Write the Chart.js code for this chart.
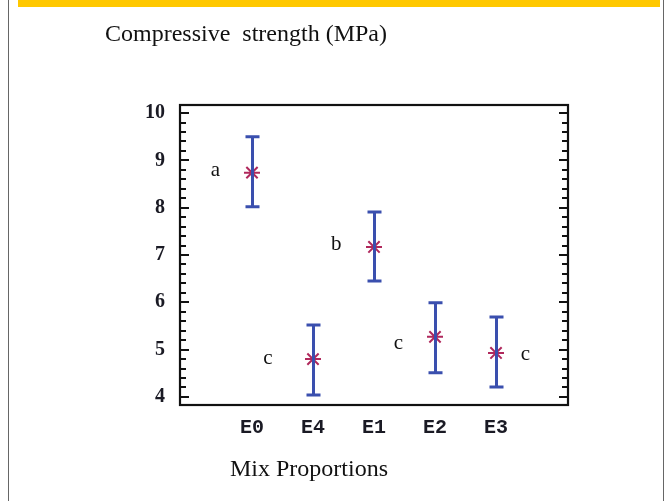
<!DOCTYPE html>
<html><head><meta charset="utf-8">
<script src="https://cdn.jsdelivr.net/npm/chart.js@4"></script>
<style>html,body{margin:0;padding:0;background:#fff}canvas{display:block}</style>
</head><body>
<canvas id="c" width="670" height="501"></canvas>
<script>
// ---- data ----
const categories = ['E0', 'E4', 'E1', 'E2', 'E3'];
const meanStrength = [8.74, 4.80, 7.17, 5.27, 4.93];
const upperStrength = [9.50, 5.52, 7.91, 5.99, 5.69];
const lowerStrength = [8.02, 4.04, 6.45, 4.51, 4.21];
const groupLetters = ['a', 'c', 'b', 'c', 'c'];
const yTickValues = [4, 5, 6, 7, 8, 9, 10];
const titleText = 'Compressive  strength (MPa)';
const xAxisTitle = 'Mix Proportions';

// ---- annotation placement (style, not data) ----
const letterOffsetX = [-0.60, -0.74, -0.62, -0.60, 0.48]; // in category units
const letterShiftY = [0, 1, 0, 9, 4];                     // pixels

const decor = {
  id: 'decor',
  beforeDraw(chart) {
    const ctx = chart.ctx;
    ctx.save();
    ctx.fillStyle = '#fff';
    ctx.fillRect(0, 0, chart.width, chart.height);
    ctx.fillStyle = '#ffc800';
    ctx.fillRect(18, 0, 642, 7);
    ctx.strokeStyle = '#666';
    ctx.lineWidth = 1;
    ctx.beginPath();
    ctx.moveTo(8.5, 0); ctx.lineTo(8.5, chart.height);
    ctx.moveTo(663.5, 0); ctx.lineTo(663.5, chart.height);
    ctx.stroke();
    ctx.fillStyle = '#111';
    ctx.font = '24px "Liberation Serif"';
    ctx.textBaseline = 'middle';
    ctx.textAlign = 'left';
    ctx.fillText(titleText, 105, 35);
    ctx.fillText(xAxisTitle, 230, 470);
    ctx.restore();
  },
  afterDatasetsDraw(chart) {
    const ctx = chart.ctx;
    const xs = chart.scales.x, ys = chart.scales.y;
    const a = chart.chartArea;
    ctx.save();
    // error bars
    ctx.strokeStyle = '#3a4fae';
    ctx.lineWidth = 3;
    ctx.lineCap = 'butt';
    categories.forEach((c, i) => {
      const px = Math.round(xs.getPixelForValue(i)) + 0.5;
      const pt = ys.getPixelForValue(upperStrength[i]);
      const pb = ys.getPixelForValue(lowerStrength[i]);
      ctx.beginPath();
      ctx.moveTo(px, pt); ctx.lineTo(px, pb);
      ctx.moveTo(px - 7, pt); ctx.lineTo(px + 7, pt);
      ctx.moveTo(px - 7, pb); ctx.lineTo(px + 7, pb);
      ctx.stroke();
    });
    // letters
    ctx.fillStyle = '#111';
    ctx.font = '21px "Liberation Serif"';
    ctx.textAlign = 'center';
    ctx.textBaseline = 'middle';
    groupLetters.forEach((l, i) => {
      const px = xs.getPixelForValue(i + letterOffsetX[i]);
      const py = ys.getPixelForValue(meanStrength[i]) + letterShiftY[i] - 2;
      ctx.fillText(l, px, py);
    });
    // frame
    ctx.strokeStyle = '#111';
    ctx.lineWidth = 2.2;
    ctx.strokeRect(a.left, a.top, a.right - a.left, a.bottom - a.top);
    // ticks (major + minor), left and right, pointing inward
    ctx.lineWidth = 2;
    ctx.beginPath();
    for (let k = 0; k <= 30; k++) {
      const v = yTickValues[0] + k * 0.2;
      const py = Math.round(ys.getPixelForValue(v));
      const len = (k % 5 === 0) ? 9 : 6;
      ctx.moveTo(a.left, py); ctx.lineTo(a.left + len, py);
      ctx.moveTo(a.right, py); ctx.lineTo(a.right - len, py);
    }
    ctx.stroke();
    ctx.restore();
  }
};

new Chart(document.getElementById('c'), {
  type: 'scatter',
  data: {
    datasets: [{
      data: meanStrength.map((m, i) => ({ x: i, y: m })),
      pointStyle: 'star',
      radius: 8,
      borderColor: '#b0285c',
      backgroundColor: '#b0285c',
      borderWidth: 2
    }]
  },
  options: {
    responsive: false,
    animation: false,
    devicePixelRatio: 1,
    layout: { padding: { left: 120, right: 102, top: 105, bottom: 46 } },
    plugins: { legend: { display: false }, tooltip: { enabled: false }, title: { display: false } },
    scales: {
      x: {
        type: 'linear',
        min: -1.18, max: 5.18,
        grid: { display: false },
        border: { display: false },
        afterBuildTicks: s => { s.ticks = categories.map((c, i) => ({ value: i })); },
        afterFit: s => { s.height = 50; },
        ticks: {
          autoSkip: false, maxRotation: 0, padding: 3,
          color: '#1a1a24',
          font: { family: 'Liberation Mono', weight: 'bold', size: 20 },
          callback: v => categories[v]
        }
      },
      y: {
        min: 3.83, max: 10.17,
        grid: { display: false },
        border: { display: false },
        afterBuildTicks: s => { s.ticks = yTickValues.map(v => ({ value: v })); },
        afterFit: s => { s.width = 60; },
        ticks: {
          padding: 7,
          color: '#1a1a24',
          font: { family: 'Liberation Serif', weight: 'bold', size: 20 }
        }
      }
    }
  },
  plugins: [decor]
});
</script>
</body></html>
